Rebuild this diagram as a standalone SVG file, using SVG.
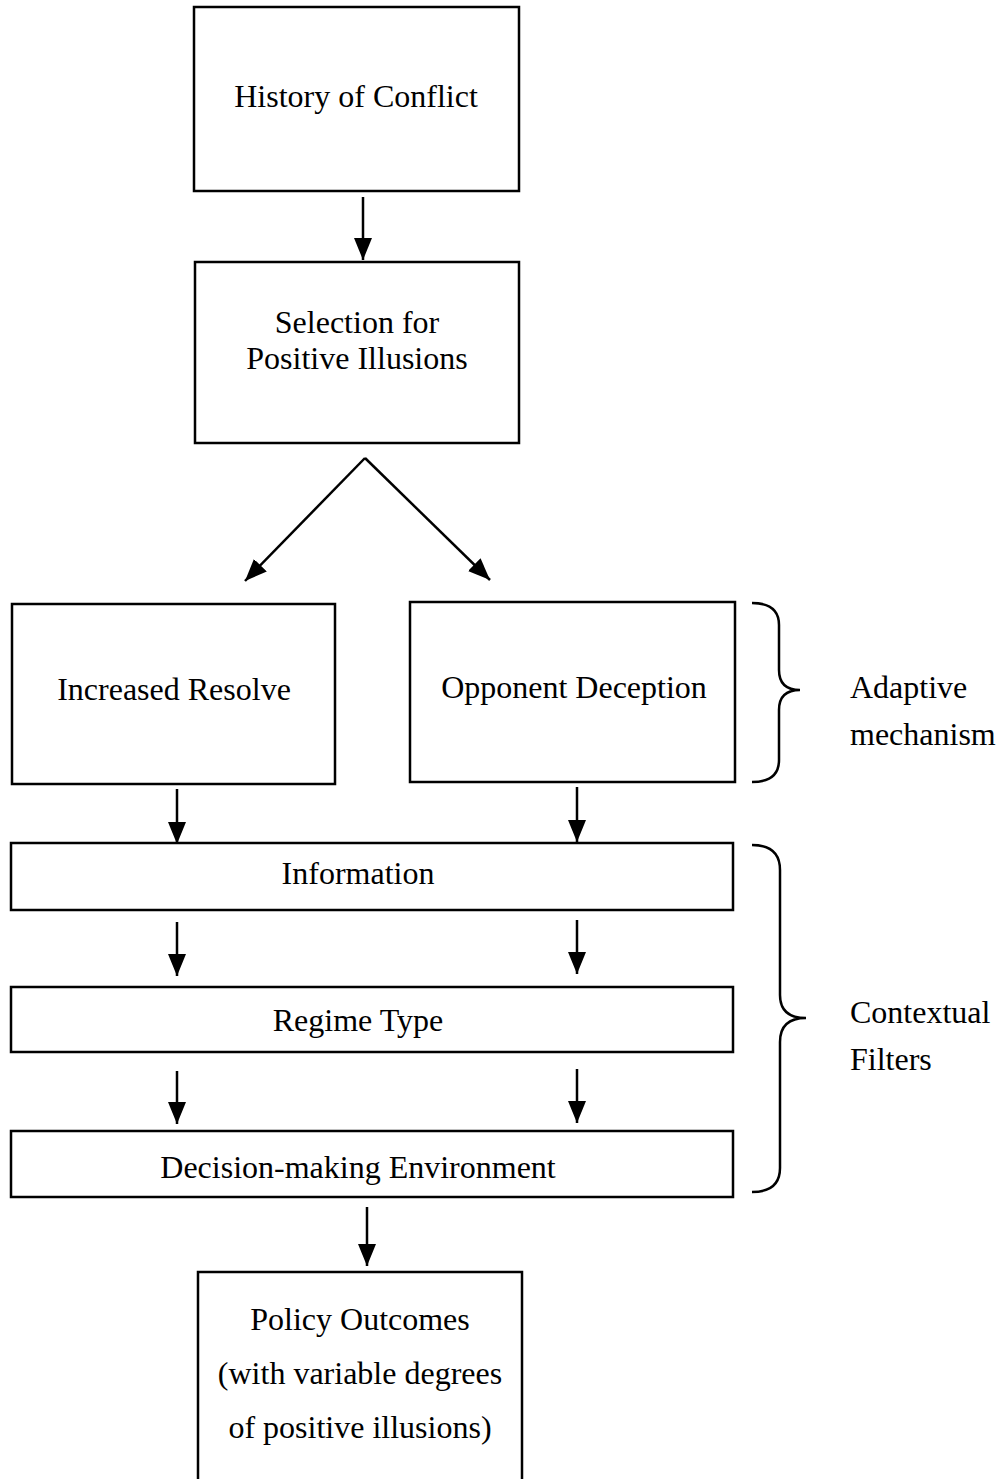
<svg xmlns="http://www.w3.org/2000/svg" width="1007" height="1479" viewBox="0 0 1007 1479">
<style>
.box{fill:#fff;stroke:#000;stroke-width:2.5}
.t{font-family:"Liberation Serif","Times New Roman",serif;font-size:32px;fill:#000;text-anchor:middle}
.l{font-family:"Liberation Serif","Times New Roman",serif;font-size:32px;fill:#000}
.c{stroke:#000;stroke-width:2.5;fill:none}
</style>
<defs>
<marker id="a" viewBox="0 0 22 18" refX="22" refY="9" markerWidth="22" markerHeight="18" markerUnits="userSpaceOnUse" orient="auto">
<path d="M0,0 L22,9 L0,18 Z" fill="#000"/>
</marker>
</defs>
<rect width="1007" height="1479" fill="#fff"/>
<g id="history"><rect class="box" x="194" y="7" width="325" height="184"/><text class="t" x="356" y="107">History of Conflict</text></g>
<g id="selection"><rect class="box" x="195" y="262" width="324" height="181"/><text class="t" x="357" y="333">Selection for</text><text class="t" x="357" y="369">Positive Illusions</text></g>
<g id="resolve"><rect class="box" x="12" y="604" width="323" height="180"/><text class="t" x="174" y="700">Increased Resolve</text></g>
<g id="deception"><rect class="box" x="410" y="602" width="325" height="180"/><text class="t" x="574" y="698">Opponent Deception</text></g>
<g id="information"><rect class="box" x="11" y="843" width="722" height="67"/><text class="t" x="358" y="884">Information</text></g>
<g id="regime"><rect class="box" x="11" y="987" width="722" height="65"/><text class="t" x="358" y="1031">Regime Type</text></g>
<g id="decision"><rect class="box" x="11" y="1131" width="722" height="66"/><text class="t" x="358" y="1178">Decision-making Environment</text></g>
<g id="policy"><rect class="box" x="198" y="1272" width="324" height="220"/><text class="t" x="360" y="1330">Policy Outcomes</text><text class="t" x="360" y="1384">(with variable degrees</text><text class="t" x="360" y="1438">of positive illusions)</text></g>
<g id="adaptive"><path class="c" d="M752,603 Q779,603 779,625 L779,670 Q779,690 800,690 Q779,690 779,710 L779,760 Q779,782 752,782"/><text class="l" x="850" y="698">Adaptive</text><text class="l" x="850" y="745">mechanism</text></g>
<g id="contextual"><path class="c" d="M752,845 Q780,845 780,870 L780,995 Q780,1018 806,1018 Q780,1018 780,1042 L780,1168 Q780,1192 752,1192"/><text class="l" x="850" y="1023">Contextual</text><text class="l" x="850" y="1070">Filters</text></g>
<g id="connectors">
<line class="c" x1="363" y1="197" x2="363" y2="260" marker-end="url(#a)"/>
<line class="c" x1="365" y1="458" x2="245" y2="581" marker-end="url(#a)"/>
<line class="c" x1="365" y1="458" x2="490" y2="580" marker-end="url(#a)"/>
<line class="c" x1="177" y1="789" x2="177" y2="844" marker-end="url(#a)"/>
<line class="c" x1="577" y1="787" x2="577" y2="842" marker-end="url(#a)"/>
<line class="c" x1="177" y1="922" x2="177" y2="976" marker-end="url(#a)"/>
<line class="c" x1="577" y1="920" x2="577" y2="974" marker-end="url(#a)"/>
<line class="c" x1="177" y1="1071" x2="177" y2="1124" marker-end="url(#a)"/>
<line class="c" x1="577" y1="1069" x2="577" y2="1123" marker-end="url(#a)"/>
<line class="c" x1="367" y1="1207" x2="367" y2="1266" marker-end="url(#a)"/>
</g>
</svg>
